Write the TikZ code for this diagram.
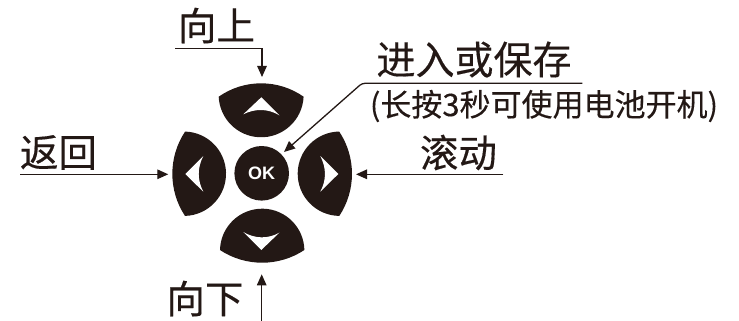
\documentclass[tikz,border=0pt]{standalone}
\usepackage{fontspec}
\usetikzlibrary{arrows.meta}
\newfontfamily\cjk[FakeBold=0.35]{Noto Sans CJK SC}
\newfontfamily\okfont{Liberation Sans}[Scale=1]
\definecolor{ink}{HTML}{231815}
\tikzset{
  lead/.style={draw=ink,line width=1.3pt,-{Triangle[length=11pt,width=9.5pt]}},
  btn/.style={fill=ink,draw=none},
  glyph/.style={fill=white,draw=none},
  biglabel/.style={text=ink,inner sep=0pt,font=\cjk\fontsize{38.5}{38.5}\selectfont},
  enterlabel/.style={text=ink,inner sep=0pt,font=\cjk\fontsize{39}{39}\selectfont},
  smalllabel/.style={text=ink,inner sep=0pt,font=\cjk\fontsize{31}{31}\selectfont},
  okbtn/.style={circle,fill=ink,minimum size=54.6pt,inner sep=0pt,text=white,font=\okfont\bfseries\fontsize{18}{18}\selectfont}
}
\begin{document}
\begin{tikzpicture}[x=1pt,y=-1pt]
\useasboundingbox (0,0) rectangle (739,321);
% buttons
\path[btn] (218.7,96.7) arc[start angle=125,end angle=55,radius=74pt] arc[start angle=-2.6,end angle=-177.4,radius=42.5pt] -- cycle;
\path[btn] (220,250) arc[start angle=178.8,end angle=1.2,radius=42.2pt] arc[start angle=-56.5,end angle=-123.5,radius=76.5pt] -- cycle;
\path[btn] (185,131.7) arc[start angle=146.5,end angle=213.5,radius=76.3pt] arc[start angle=-88.4,end angle=88.4,radius=42.2pt] -- cycle;
\path[btn] (339.3,131.7) arc[start angle=33.5,end angle=-33.5,radius=76.3pt] arc[start angle=-90.8,end angle=-269.2,radius=42.2pt] -- cycle;
% white arrows
\path[glyph] (261.3,97.3) -- (279.3,115.3) .. controls (268,108.4) and (255,108.4) .. (243.3,114.3) -- cycle;
\path[glyph] (261.3,250) -- (279.3,232.7) .. controls (268,239) and (255,239) .. (243.3,232) -- cycle;
\path[glyph] (185.3,174) -- (203.3,156) .. controls (197.2,168) and (197.2,180) .. (203.3,191.7) -- cycle;
\path[glyph] (338.3,174) -- (320.3,156) .. controls (326.5,168) and (326.5,180) .. (320.3,191.7) -- cycle;
\node[okbtn] (ok) at (261.7,173.3) {OK};
% labels
\node[biglabel] (lup) at (216.5,25.5) {向上};
\node[biglabel] (lback) at (58.5,152.5) {返回};
\node[biglabel] (lscroll) at (458.5,152.5) {滚动};
\node[biglabel] (ldown) at (205,298.5) {向下};
\node[enterlabel] (lenter) at (474,59.5) {进入或保存};
\node[smalllabel] (lhold) at (544,106) {(长按3秒可使用电池开机)};
% connector ends
\coordinate (upS) at (175,48.3);
\coordinate (upB) at (262,48.3);
\coordinate (upT) at (262,77);
\coordinate (backS) at (20.3,174.3);
\coordinate (backT) at (168.3,174.3);
\coordinate (scrollS) at (503.3,174.3);
\coordinate (scrollT) at (356,174.3);
\coordinate (downS) at (261.7,321);
\coordinate (downT) at (261.7,274.3);
\coordinate (okS) at (582.3,83.3);
\coordinate (okB) at (362,83.3);
\coordinate (okT) at (284,152);
\draw[lead] (upS) -- (upB) -- (upT);
\draw[lead] (backS) -- (backT);
\draw[lead] (scrollS) -- (scrollT);
\draw[lead] (downS) -- (downT);
\draw[lead,rounded corners=3pt] (okS) -- (okB) -- (okT);
\end{tikzpicture}
\end{document}
